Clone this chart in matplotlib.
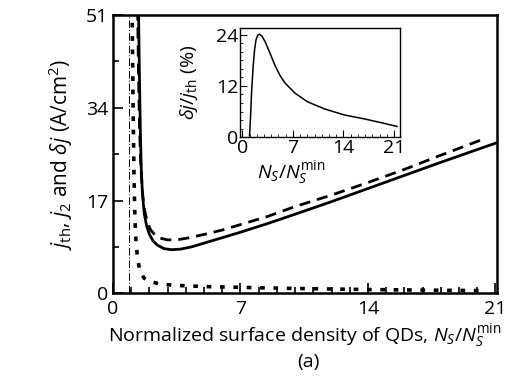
import numpy as np
import matplotlib
matplotlib.use("Agg")
import matplotlib.pyplot as plt
from matplotlib.ticker import MultipleLocator

plt.rcParams["font.family"] = ["Open Sans", "DejaVu Sans"]
plt.rcParams["mathtext.fontset"] = "custom"
plt.rcParams["mathtext.rm"] = "Open Sans"
plt.rcParams["mathtext.it"] = "Open Sans:italic"
plt.rcParams["mathtext.sf"] = "Open Sans"

# main panel: threshold current density j_th (solid)
x_jth = [1.4, 1.45, 1.5, 1.55, 1.62, 1.72, 1.85, 2.0, 2.2, 2.45, 2.8, 3.2,
         3.7, 4.3, 5, 6, 7, 8.5, 10, 12, 14, 16, 18, 21]
y_jth = [52, 40, 30, 23, 18, 14.5, 12.3, 10.8, 9.6, 8.8, 8.2, 8.0,
         8.1, 8.5, 9.2, 10.2, 11.2, 12.8, 14.5, 16.8, 19.2, 21.6, 24.0, 27.5]

# j_2 (dashed)
x_j2 = [1.35, 1.4, 1.46, 1.52, 1.6, 1.72, 1.87, 2.05, 2.3, 2.6, 3.0, 3.5,
        4.2, 5, 6, 7, 8.5, 10, 12, 14, 16, 18, 20.3]
y_j2 = [52, 40, 30, 24, 19, 15.5, 13.2, 11.7, 10.7, 10.1, 9.8, 9.8,
        10.2, 10.8, 11.6, 12.6, 14.1, 15.9, 18.0, 20.3, 22.7, 25.3, 28.2]

# delta j (heavy dotted)
x_dj = [1.05, 1.1, 1.15, 1.2, 1.27, 1.37, 1.5, 1.7, 2.0, 2.6, 3.5, 5,
        7, 10, 14, 17, 20.5]
y_dj = [52, 35, 22, 14, 9, 5.8, 4.0, 2.8, 2.2, 1.7, 1.45, 1.25,
        1.1, 0.9, 0.7, 0.6, 0.5]

# vertical thin line at minimum density
x_min = 0.9

# inset: delta j / j_th (%)
x_in = [1.0, 1.15, 1.3, 1.5, 1.7, 1.9, 2.15, 2.4, 2.7, 3.15, 3.7, 4.5,
        5.2, 5.9, 7.3, 9.0, 11.4, 14.1, 16.8, 19.2, 21.4]
y_in = [0.3, 5, 11, 16.5, 20.5, 22.8, 23.9, 24.1, 23.7, 22.4, 20.2, 16.9,
        14.5, 12.7, 10.3, 8.3, 6.6, 5.2, 4.3, 3.4, 2.5]

fig = plt.figure(figsize=(5.22, 3.82), dpi=100)
ax = fig.add_axes([0.2165, 0.232, 0.736, 0.729])

ax.plot(x_jth, y_jth, color="black", lw=2.0)
ax.plot(x_j2, y_j2, color="black", lw=2.0, dashes=(4, 2.5))
ax.plot(x_dj, y_dj, color="black", lw=2.6, dashes=(1.3, 2.4))
ax.axvline(x_min, color="black", lw=0.7, dashes=(8, 2, 1, 2))

ax.set_xlim(0, 21.1)
ax.set_ylim(0, 51)
ax.set_xticks([0, 7, 14, 21])
ax.set_yticks([0, 17, 34, 51])
ax.xaxis.set_minor_locator(MultipleLocator(1))
ax.yaxis.set_minor_locator(MultipleLocator(8.5))
ax.tick_params(which="both", direction="in", labelsize=14, width=1.2)
ax.tick_params(which="major", length=7)
ax.tick_params(which="minor", length=4)
ax.tick_params(axis="x", pad=5)
for s in ax.spines.values():
    s.set_linewidth(1.8)

ax.set_xlabel(r"Normalized surface density of QDs, $N_S/N_S^{\rm min}$",
              fontsize=14, labelpad=3)
ax.set_ylabel(r"$j_{\rm th}$, $j_2$ and $\delta j$ (A/cm$^2$)", fontsize=15)
ax.yaxis.set_label_coords(-0.10, 0.5)
fig.text(0.59, 0.04, "(a)", fontsize=14, ha="center")

# inset
ins = fig.add_axes([0.46, 0.641, 0.306, 0.285])
ins.plot(x_in, y_in, color="black", lw=1.1)
ins.set_xlim(-0.3, 21.8)
ins.set_ylim(0, 25.5)
ins.set_xticks([0, 7, 14, 21])
ins.set_yticks([0, 12, 24])
ins.xaxis.set_minor_locator(MultipleLocator(1))
ins.yaxis.set_minor_locator(MultipleLocator(2))
ins.tick_params(which="both", direction="in", labelsize=14, pad=1)
ins.tick_params(which="major", length=5)
ins.tick_params(which="minor", length=2)
for s in ins.spines.values():
    s.set_linewidth(1.0)
ins.set_xlabel(r"$N_S/N_S^{\rm min}$", fontsize=14)
ins.xaxis.set_label_coords(0.32, -0.2)
ins.set_ylabel(r"$\delta j/j_{\rm th}$ (%)", fontsize=14, labelpad=12)

fig.savefig("out.png", dpi=100)
